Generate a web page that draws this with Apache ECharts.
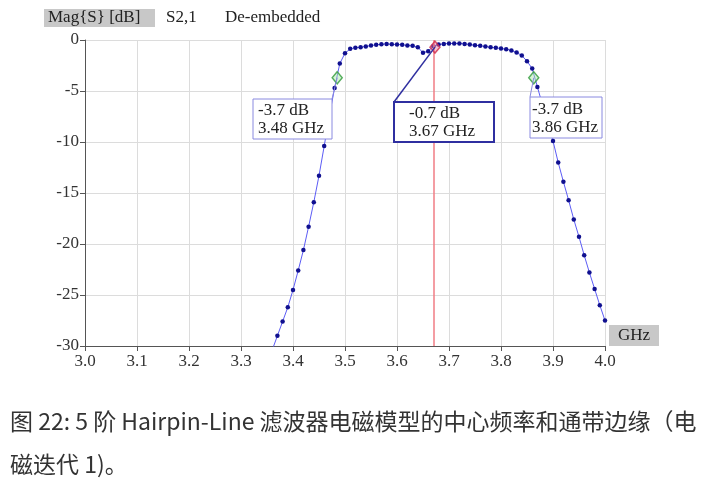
<!DOCTYPE html>
<html><head><meta charset="utf-8">
<script src="https://cdn.jsdelivr.net/npm/echarts@6/dist/echarts.min.js"></script>
<style>html,body{margin:0;padding:0;background:#fff}#c{width:703px;height:501px}</style>
</head><body><div id="c"></div>
<script>
// ---- data ----
const freqGHz = [3.36,3.37,3.38,3.39,3.40,3.41,3.42,3.43,3.44,3.45,3.46,3.47,3.48,3.49,3.50,3.51,3.52,3.53,3.54,3.55,3.56,3.57,3.58,3.59,3.60,3.61,3.62,3.63,3.64,3.65,3.66,3.67,3.68,3.69,3.70,3.71,3.72,3.73,3.74,3.75,3.76,3.77,3.78,3.79,3.80,3.81,3.82,3.83,3.84,3.85,3.86,3.87,3.88,3.89,3.90,3.91,3.92,3.93,3.94,3.95,3.96,3.97,3.98,3.99,4.00];
const s21dB = [-30.4,-29.0,-27.6,-26.2,-24.5,-22.6,-20.6,-18.3,-15.9,-13.3,-10.4,-7.4,-4.7,-2.3,-1.3,-0.87,-0.76,-0.70,-0.64,-0.54,-0.47,-0.41,-0.38,-0.41,-0.44,-0.47,-0.54,-0.57,-0.70,-1.26,-1.10,-0.62,-0.44,-0.38,-0.34,-0.34,-0.34,-0.38,-0.44,-0.51,-0.57,-0.64,-0.70,-0.77,-0.83,-0.90,-1.03,-1.23,-1.52,-2.08,-2.8,-4.6,-6.4,-8.2,-9.9,-12.0,-13.9,-15.7,-17.6,-19.3,-21.1,-22.8,-24.4,-26.0,-27.5];
const xTickLabels = ['3.0','3.1','3.2','3.3','3.4','3.5','3.6','3.7','3.8','3.9','4.0'];
const yTickLabels = ['0','-5','-10','-15','-20','-25','-30'];
const markerFreq = [3.485, 3.673, 3.863];
const markerDb = [-3.7, -0.7, -3.7];
const markerLine1 = ['-3.7 dB', '-0.7 dB', '-3.7 dB'];
const markerLine2 = ['3.48 GHz', '3.67 GHz', '3.86 GHz'];
const headerTexts = ['Mag{S} [dB]', 'S2,1', 'De-embedded'];
const xUnit = 'GHz';
const captionLines = ['图 22: 5 阶 Hairpin-Line 滤波器电磁模型的中心频率和通带边缘（电', '磁迭代 1)。'];

// ---- chart ----
const SERIF = '"Liberation Serif","DejaVu Serif",serif';
const FS = 17;
const chart = echarts.init(document.getElementById('c'), null, {renderer:'canvas'});
const lineData = freqGHz.map((f,i)=>[f, s21dB[i]]);
const edgeMarkers = [0,2].map(i=>[markerFreq[i], markerDb[i]]);
const centerMarker = [[markerFreq[1], markerDb[1]]];

chart.setOption({
  animation:false,
  backgroundColor:'#fff',
  grid:{left:85, right:98, top:40, bottom:155, containLabel:false},
  xAxis:{type:'value', min:3, max:4, interval:0.1,
    axisLine:{show:true, onZero:false, lineStyle:{color:'#555', width:1}},
    axisTick:{show:true, length:5, lineStyle:{color:'#555'}},
    axisLabel:{color:'#333', fontFamily:SERIF, fontSize:FS, margin:7,
      formatter:(v)=>{const i=Math.round((v-3)*10); return xTickLabels[i]!==undefined?xTickLabels[i]:'';}},
    splitLine:{show:true, lineStyle:{color:'#dcdcdc', width:1}}},
  yAxis:{type:'value', min:-30, max:0, interval:5,
    axisLine:{show:true, onZero:false, lineStyle:{color:'#555', width:1}},
    axisTick:{show:true, length:5, lineStyle:{color:'#555'}},
    axisLabel:{color:'#333', fontFamily:SERIF, fontSize:FS, margin:6,
      formatter:(v)=>{const i=Math.round(-v/5); return yTickLabels[i]!==undefined?yTickLabels[i]:'';}},
    splitLine:{show:true, lineStyle:{color:'#dcdcdc', width:1}}},
  series:[
    {type:'line', data:lineData, clip:true, symbol:'circle', symbolSize:4.5, showSymbol:true,
      itemStyle:{color:'#10108f'}, lineStyle:{color:'#5c5cf5', width:1}, z:3},
    {type:'scatter', data:centerMarker, symbol:'diamond', symbolSize:[10,12], z:5,
      itemStyle:{color:'rgba(240,120,150,0.55)', borderColor:'#d02a4a', borderWidth:1.5},
      markLine:{silent:true, symbol:'none', label:{show:false},
        lineStyle:{color:'#f07c84', width:1.5, type:'solid'},
        data:[{xAxis:markerFreq[1]}]}},
    {type:'scatter', data:edgeMarkers, symbol:'diamond', symbolSize:[10,12], z:5,
      itemStyle:{color:'rgba(170,235,170,0.6)', borderColor:'#2f9a3a', borderWidth:1.5}}
  ]
});

// ---- annotations ----
const boxes = [
  {x:253, y:99, w:79, h:40, cx:332, cy:99, border:'#8a8ae0', bw:1, tx:258},
  {x:394, y:102, w:100, h:40, cx:394, cy:102, border:'#2f2fa0', bw:2, tx:409},
  {x:530, y:97, w:72, h:41, cx:530, cy:97, border:'#8a8ae0', bw:1, tx:532}
];
const g = [];
// header
g.push({type:'rect', shape:{x:44, y:9, width:111, height:18}, style:{fill:'#c8c8c8'}, z:100});
g.push({type:'text', x:48, y:18, style:{text:headerTexts[0], font:FS+'px '+SERIF, fill:'#222', verticalAlign:'middle'}, z:101});
g.push({type:'text', x:166, y:18, style:{text:headerTexts[1], font:FS+'px '+SERIF, fill:'#222', verticalAlign:'middle'}, z:101});
g.push({type:'text', x:225, y:18, style:{text:headerTexts[2], font:FS+'px '+SERIF, fill:'#222', verticalAlign:'middle'}, z:101});
// unit box
g.push({type:'rect', shape:{x:609, y:325, width:50, height:21}, style:{fill:'#c8c8c8'}, z:100});
g.push({type:'text', x:634, y:336, style:{text:xUnit, font:FS+'px '+SERIF, fill:'#222', align:'center', verticalAlign:'middle'}, z:101});
// marker boxes + leader lines
boxes.forEach((b,i)=>{
  const p = chart.convertToPixel({gridIndex:0}, [markerFreq[i], markerDb[i]]);
  g.push({type:'line', shape:{x1:b.cx, y1:b.cy, x2:p[0], y2:p[1]}, style:{stroke:b.border, lineWidth:b.bw===2?1.5:1}, z:90});
  g.push({type:'rect', shape:{x:b.x, y:b.y, width:b.w, height:b.h}, style:{fill:'#fff', stroke:b.border, lineWidth:b.bw}, z:95});
  g.push({type:'text', x:b.tx, y:b.y+b.h*0.3, style:{text:markerLine1[i], font:FS+'px '+SERIF, fill:'#222', verticalAlign:'middle'}, z:96});
  g.push({type:'text', x:b.tx, y:b.y+b.h*0.75, style:{text:markerLine2[i], font:FS+'px '+SERIF, fill:'#222', verticalAlign:'middle'}, z:96});
});
// caption
g.push({type:'text', x:10, y:421, style:{text:captionLines[0], font:'23px "Noto Sans CJK SC", sans-serif', fill:'#333', verticalAlign:'middle'}, z:100});
g.push({type:'text', x:10, y:464, style:{text:captionLines[1], font:'23px "Noto Sans CJK SC", sans-serif', fill:'#333', verticalAlign:'middle'}, z:100});
chart.setOption({graphic:g});
</script>
</body></html>
